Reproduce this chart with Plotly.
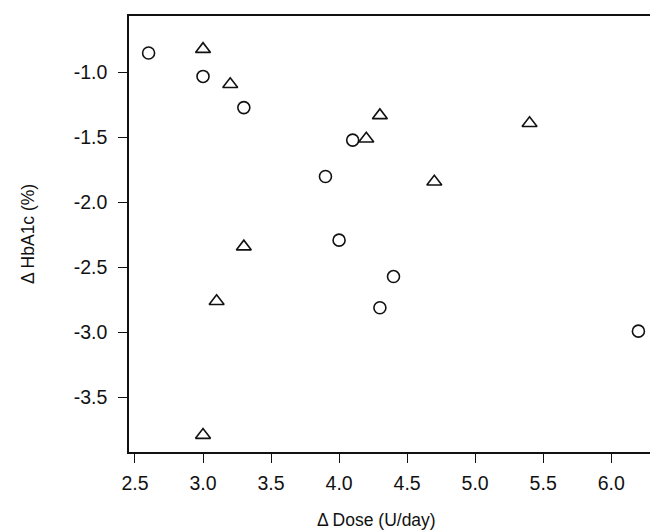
import plotly.graph_objects as go

# 원 표시 그룹
circle_dose = [2.6, 3.0, 3.3, 4.1, 3.9, 4.0, 4.4, 4.3, 6.2]
circle_hba1c = [-0.85, -1.03, -1.27, -1.52, -1.80, -2.29, -2.57, -2.81, -2.99]

# 삼각형 표시 그룹
tri_dose = [3.0, 3.2, 4.3, 4.2, 5.4, 4.7, 3.3, 3.1, 3.0]
tri_hba1c = [-0.82, -1.09, -1.33, -1.51, -1.39, -1.84, -2.34, -2.76, -3.79]

x_ticks = [2.5, 3.0, 3.5, 4.0, 4.5, 5.0, 5.5, 6.0]
y_ticks = [-1.0, -1.5, -2.0, -2.5, -3.0, -3.5]

font = "Liberation Sans, Arial, Helvetica, sans-serif"
ink = "#111111"

fig = go.Figure()
fig.add_trace(go.Scatter(
    x=circle_dose, y=circle_hba1c, mode="markers",
    marker=dict(symbol="circle-open", size=12, color=ink, line=dict(width=1.6, color=ink)),
))
fig.add_trace(go.Scatter(
    x=tri_dose, y=tri_hba1c, mode="markers",
    marker=dict(symbol="triangle-up-open", size=13, color=ink, line=dict(width=1.6, color=ink)),
))

axis_common = dict(
    showline=True, linecolor=ink, linewidth=1.5, mirror=True,
    ticks="outside", ticklen=9, tickwidth=1.2, tickcolor=ink,
    showgrid=False, zeroline=False,
    tickfont=dict(family=font, size=19.5, color=ink),
)

fig.update_xaxes(range=[2.456, 6.344], tickvals=x_ticks,
                 ticktext=[f"{v:.1f}" for v in x_ticks],
                 ticklabelstandoff=4, **axis_common)
fig.update_yaxes(range=[-3.92, -0.565], tickvals=y_ticks,
                 ticktext=[f"{v:.1f}" for v in y_ticks],
                 ticklabelstandoff=7, **axis_common)

# 축 제목
fig.add_annotation(text="Δ Dose (U/day)", xref="paper", yref="paper",
                   x=0.467, y=0, xanchor="center", yanchor="middle",
                   yshift=-68, showarrow=False,
                   font=dict(family=font, size=17.5, color=ink))
fig.add_annotation(text="Δ HbA1c (%)", xref="paper", yref="paper",
                   x=0, y=0.5, xanchor="center", yanchor="middle",
                   xshift=-101, textangle=-90, showarrow=False,
                   font=dict(family=font, size=17.5, color=ink))

fig.update_layout(
    width=658, height=532,
    margin=dict(l=121, r=8, t=6, b=88),
    paper_bgcolor="white", plot_bgcolor="white",
    showlegend=False,
)

fig.write_html("out.html")
